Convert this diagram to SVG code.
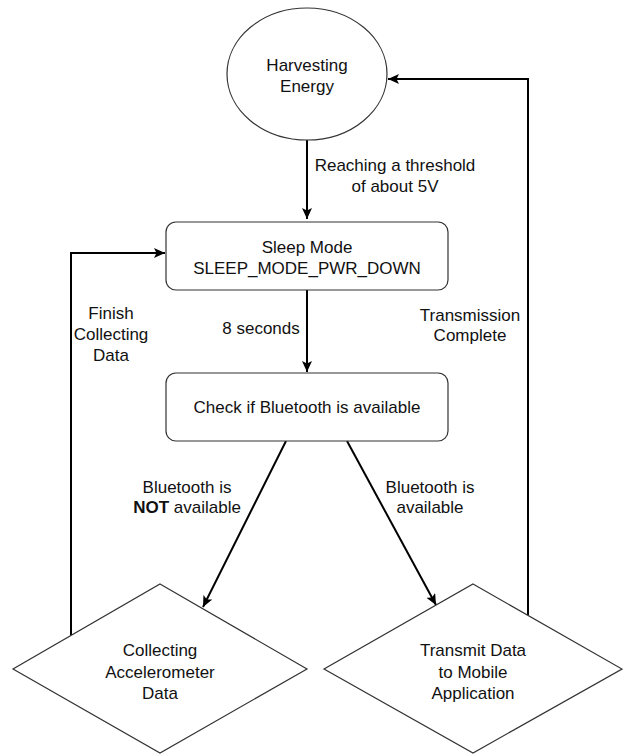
<svg xmlns="http://www.w3.org/2000/svg" width="623" height="755" viewBox="0 0 623 755">
<style>
.shape{fill:#fff;stroke:#333;stroke-width:1.2}
.conn{fill:none;stroke:#000;stroke-width:2}
text{font-family:"Liberation Sans",Arial,sans-serif;font-size:17px;fill:#111;text-anchor:middle;dominant-baseline:central}
</style>
<defs>
<marker id="arr" markerUnits="userSpaceOnUse" markerWidth="12" markerHeight="10" refX="11" refY="5" orient="auto">
<path d="M0,0 L11,5 L0,10 L2.5,5 z" fill="#000"/>
</marker>
</defs>
<rect width="623" height="755" fill="#fff"/>
<g id="connectors">
<path class="conn" d="M307,140 L307,219" marker-end="url(#arr)"/>
<path class="conn" d="M307,290 L307,372" marker-end="url(#arr)"/>
<path class="conn" d="M286,441 L203,607" marker-end="url(#arr)"/>
<path class="conn" d="M347,441 L436,605" marker-end="url(#arr)"/>
<path class="conn" d="M71,635 L71,253 L165,253" marker-end="url(#arr)"/>
<path class="conn" d="M528,615 L528,79 L388,79" marker-end="url(#arr)"/>
</g>
<g id="labels">
<text x="395" y="165">Reaching a threshold</text>
<text x="395" y="186">of about 5V</text>
<text x="261" y="328">8 seconds</text>
<text x="111" y="313">Finish</text>
<text x="111" y="334">Collecting</text>
<text x="111" y="355">Data</text>
<text x="470" y="315">Transmission</text>
<text x="470" y="335">Complete</text>
<text x="187" y="487">Bluetooth is</text>
<text x="187" y="507"><tspan font-weight="bold">NOT</tspan> available</text>
<text x="430" y="487">Bluetooth is</text>
<text x="430" y="507">available</text>
</g>
<g id="harvesting">
<ellipse class="shape" cx="307" cy="74" rx="80" ry="66"/>
<text x="307" y="65">Harvesting</text>
<text x="307" y="86">Energy</text>
</g>
<g id="sleep">
<rect class="shape" x="166" y="222" width="282" height="68" rx="10"/>
<text x="307" y="247">Sleep Mode</text>
<text x="307" y="268">SLEEP_MODE_PWR_DOWN</text>
</g>
<g id="check">
<rect class="shape" x="166" y="373" width="282" height="68" rx="10"/>
<text x="307" y="407">Check if Bluetooth is available</text>
</g>
<g id="collecting">
<polygon class="shape" points="160,584 307,669 160,753 13,669"/>
<text x="160" y="650">Collecting</text>
<text x="160" y="672">Accelerometer</text>
<text x="160" y="693">Data</text>
</g>
<g id="transmit">
<polygon class="shape" points="473,584 622,669 473,753 324,669"/>
<text x="473" y="650">Transmit Data</text>
<text x="473" y="672">to Mobile</text>
<text x="473" y="693">Application</text>
</g>
</svg>
